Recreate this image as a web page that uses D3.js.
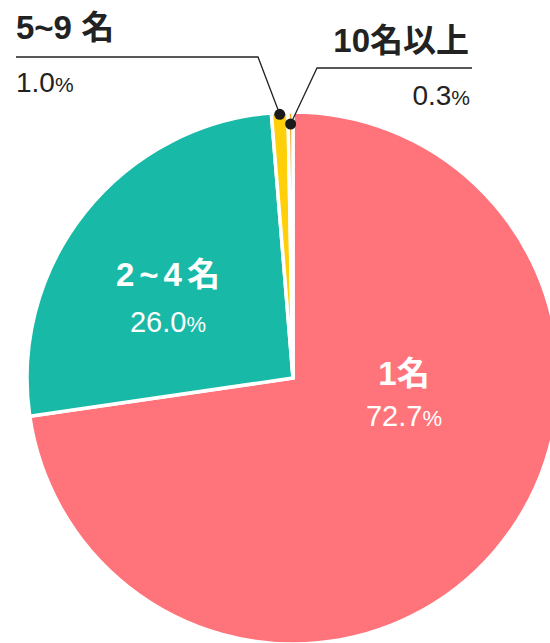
<!DOCTYPE html>
<html>
<head>
<meta charset="utf-8">
<script src="https://cdn.jsdelivr.net/npm/d3@7/dist/d3.min.js"></script>
<style>
  html, body { margin: 0; padding: 0; background: #fff; overflow: hidden; }
  svg { display: block; }
  text { font-family: "Liberation Sans", Arial, "Noto Sans CJK JP", sans-serif; }
</style>
</head>
<body>
<svg id="chart" width="550" height="643"></svg>
<script>
// Share of respondents by group size
const categories = ["1名", "2~4名", "5~9 名", "10名以上"];
const shares = [72.7, 26.0, 1.0, 0.3];
const colors = ["#FF747A", "#18B9A6", "#FFCF0A", "#F4A71B"];

const W = 550, H = 643;
const cx = 293, cy = 378, R = 266;

const svg = d3.select("#chart");
const g = svg.append("g").attr("transform", `translate(${cx},${cy})`);

const pie = d3.pie().sort(null).value(d => d.v).startAngle(0).endAngle(2 * Math.PI);
const data = pie(categories.map((c, i) => ({ c, v: shares[i], color: colors[i] })));

const arc = d3.arc().innerRadius(0).outerRadius(R);

g.selectAll("path.slice")
  .data(data)
  .join("path")
  .attr("class", "slice")
  .attr("d", arc)
  .attr("fill", d => d.data.color)
  .attr("stroke", "#fff")
  .attr("stroke-width", 3.5)
  .attr("stroke-linejoin", "miter");

// In-slice labels for the two large segments
const inside = [
  { i: 0, x: 404, y: 385, py: 426, ls: 0 },
  { i: 1, x: 168, y: 286, py: 332, ls: 5 }
];
inside.forEach(o => {
  const d = data[o.i];
  svg.append("text")
    .attr("x", o.x + o.ls / 2).attr("y", o.y)
    .attr("text-anchor", "middle")
    .attr("fill", "#fff")
    .attr("font-size", 33)
    .attr("font-weight", "bold")
    .attr("letter-spacing", o.ls)
    .text(d.data.c);
  const t = svg.append("text")
    .attr("x", o.x).attr("y", o.py)
    .attr("text-anchor", "middle")
    .attr("fill", "#fff")
    .attr("font-size", 29);
  t.append("tspan").text(d.data.v.toFixed(1));
  t.append("tspan").attr("font-size", 22).text("%");
});

// Callouts for the two thin segments
const callouts = [
  { i: 2, r: R - 2, bend: [258, 57], end: [16, 57], anchor: "start", tx: 16, ty: 39, px: 16, py: 92 },
  { i: 3, r: R - 12, bend: [317, 68], end: [472, 68], anchor: "end", tx: 469, ty: 52, px: 470, py: 105 }
];
callouts.forEach(o => {
  const d = data[o.i];
  const mid = (d.startAngle + d.endAngle) / 2;
  const dx = cx + o.r * Math.sin(mid);
  const dy = cy - o.r * Math.cos(mid);
  svg.append("polyline")
    .attr("points", [[dx, dy], o.bend, o.end].map(p => p.join(",")).join(" "))
    .attr("fill", "none")
    .attr("stroke", "#222")
    .attr("stroke-width", 1.3);
  svg.append("circle")
    .attr("cx", dx).attr("cy", dy).attr("r", 5.5)
    .attr("fill", "#1a1a1a");
  svg.append("text")
    .attr("x", o.tx).attr("y", o.ty)
    .attr("text-anchor", o.anchor)
    .attr("fill", "#222")
    .attr("font-size", 33)
    .attr("font-weight", "bold")
    .text(d.data.c);
  const t = svg.append("text")
    .attr("x", o.px).attr("y", o.py)
    .attr("text-anchor", o.anchor)
    .attr("fill", "#222")
    .attr("font-size", 28);
  t.append("tspan").text(d.data.v.toFixed(1));
  t.append("tspan").attr("font-size", 21).text("%");
});
</script>
</body>
</html>
